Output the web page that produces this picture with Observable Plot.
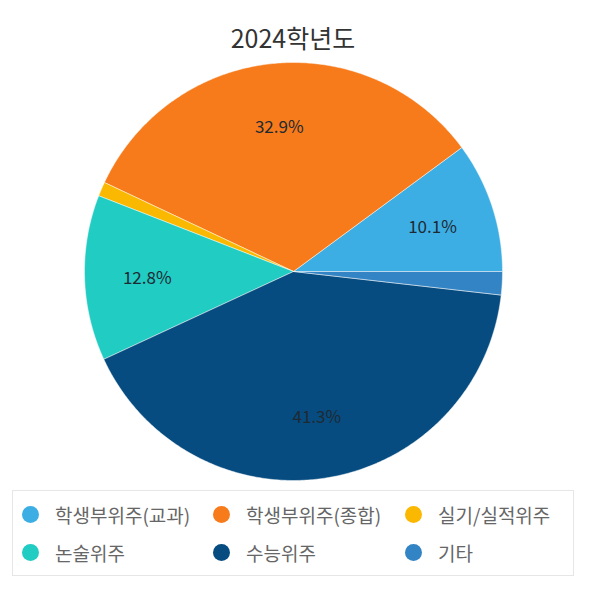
<!DOCTYPE html>
<html>
<head>
<meta charset="utf-8">
<script src="https://cdn.jsdelivr.net/npm/d3@7"></script>
<script src="https://cdn.jsdelivr.net/npm/@observablehq/plot@0.6"></script>
<style>
  body { margin: 0; background: #fff; font-family: "Noto Sans CJK KR", "Noto Sans", sans-serif; }
  #wrap { position: relative; width: 594px; height: 596px; }
  #title { position: absolute; top: 22px; left: 0; width: 586px; text-align: center; font-size: 25px; line-height: 30px; color: #333; }
  #chart { position: absolute; top: 55px; left: 0; }
  #legend { position: absolute; left: 12px; top: 490px; width: 562px; height: 86px; border: 1px solid #e6e6e6;
            display: grid; grid-template-columns: 191px 192px auto; grid-auto-rows: 38px; padding: 4px 0 0 9px; box-sizing: border-box; }
  .item { display: flex; align-items: center; font-size: 19px; color: #666; white-space: nowrap; }
  .dot { width: 17px; height: 17px; border-radius: 50%; margin-right: 16px; flex: none; }
</style>
</head>
<body>
<div id="wrap">
  <div id="title">2024학년도</div>
  <div id="chart"></div>
  <div id="legend"></div>
</div>
<script>
const categories = ['학생부위주(교과)', '학생부위주(종합)', '실기/실적위주', '논술위주', '수능위주', '기타'];
const shares = [10.1, 32.9, 1.1, 12.8, 41.3, 1.8];
const colors = ['#3daee3', '#f77b1b', '#fbb800', '#21ccc2', '#074c80', '#3384c4'];

const total = d3.sum(shares);
const ends = d3.cumsum(shares);

// slices go counterclockwise from 3 o'clock
const slices = categories.map((c, i) => {
  const a0 = ((ends[i] - shares[i]) / total) * 2 * Math.PI;
  const a1 = (ends[i] / total) * 2 * Math.PI;
  return {category: c, share: shares[i], a0, a1, mid: (a0 + a1) / 2};
});

const outline = slices.flatMap((s) => {
  const steps = Math.max(2, Math.ceil((s.a1 - s.a0) / 0.01));
  const pts = [{category: s.category, x: 0, y: 0}];
  for (let k = 0; k <= steps; k++) {
    const a = s.a0 + ((s.a1 - s.a0) * k) / steps;
    pts.push({category: s.category, x: Math.cos(a), y: Math.sin(a)});
  }
  pts.push({category: s.category, x: 0, y: 0});
  return pts;
});

const labels = slices.filter((s) => s.share >= 5);

const chart = Plot.plot({
  width: 594,
  height: 432,
  margin: 0,
  style: {fontFamily: '"Noto Sans CJK KR", "Noto Sans", sans-serif', background: 'transparent'},
  x: {domain: [-1, 1], range: [84, 502], axis: null},
  y: {domain: [-1, 1], range: [425, 7], axis: null},
  color: {domain: categories, range: colors},
  marks: [
    Plot.line(outline, {
      x: 'x',
      y: 'y',
      z: 'category',
      fill: 'category',
      stroke: '#ffffff',
      strokeWidth: 0.8,
      strokeOpacity: 0.6,
    }),
    Plot.text(labels, {
      x: (d) => Math.cos(d.mid) * 0.7,
      y: (d) => Math.sin(d.mid) * 0.7,
      text: (d) => `${d.share.toFixed(1)}%`,
      fill: '#1e2a33',
      fontSize: 17,
      dy: 2,
      textAnchor: 'middle',
    }),
  ],
});

document.getElementById('chart').append(chart);

const legend = d3.select('#legend');
categories.forEach((c, i) => {
  const item = legend.append('div').attr('class', 'item');
  item.append('span').attr('class', 'dot').style('background', colors[i]);
  item.append('span').text(c);
});
</script>
</body>
</html>
